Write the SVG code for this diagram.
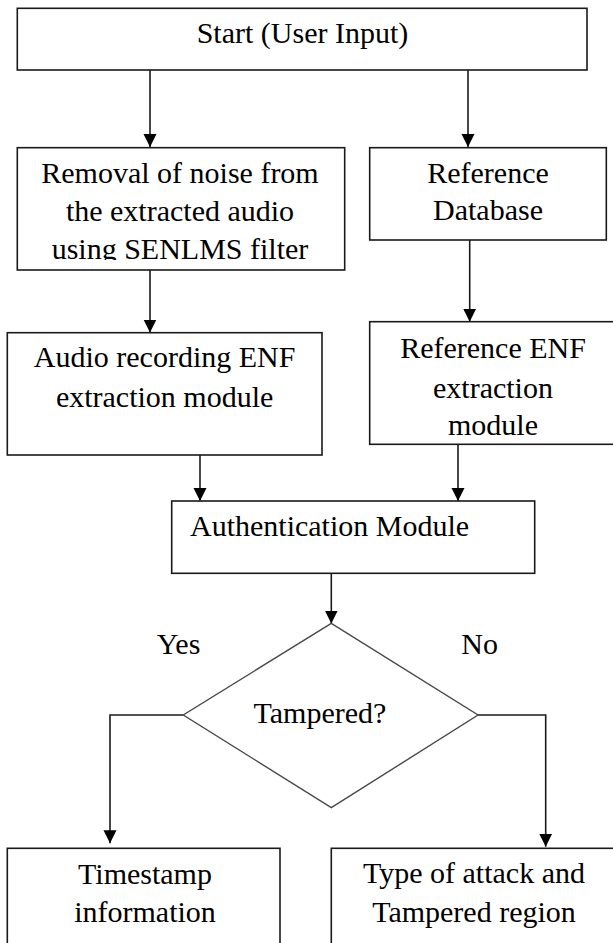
<svg xmlns="http://www.w3.org/2000/svg" width="613" height="943" viewBox="0 0 613 943">
<style>
.box{fill:#fff;stroke:#1a1a1a;stroke-width:1.6}
.dia{fill:#fff;stroke:#4a4a4a;stroke-width:1.4}
.t{font-family:'Liberation Serif','Times New Roman','DejaVu Serif',serif;font-size:30px;fill:#000}
.c{text-anchor:middle}
.ln{fill:none;stroke:#1a1a1a;stroke-width:1.6}
</style>
<defs>
<marker id="ah" markerUnits="userSpaceOnUse" markerWidth="14" markerHeight="14" refX="13" refY="6.5" orient="auto">
<path d="M0,0 L13,6.5 L0,13 Z" fill="#000"/>
</marker>
<clipPath id="clipRemoval"><rect x="17" y="148" width="328" height="112"/></clipPath>
</defs>
<rect width="613" height="943" fill="#fff"/>
<g id="connectors">
<line class="ln" x1="150" y1="70" x2="150" y2="147" marker-end="url(#ah)"/>
<line class="ln" x1="468" y1="70" x2="468" y2="147" marker-end="url(#ah)"/>
<line class="ln" x1="150" y1="270" x2="150" y2="332.5" marker-end="url(#ah)"/>
<line class="ln" x1="469.7" y1="240" x2="469.7" y2="321.7" marker-end="url(#ah)"/>
<line class="ln" x1="200" y1="455" x2="200" y2="501" marker-end="url(#ah)"/>
<line class="ln" x1="458" y1="444.3" x2="458" y2="501" marker-end="url(#ah)"/>
<line class="ln" x1="331.3" y1="573.3" x2="331.3" y2="623.5" marker-end="url(#ah)"/>
<polyline class="ln" points="183.3,715 110,715 110,843.3" marker-end="url(#ah)"/>
<polyline class="ln" points="478,715 545.7,715 545.7,846.7" marker-end="url(#ah)"/>
</g>
<g id="start">
<rect class="box" x="17.3" y="8.3" width="569.7" height="61.7"/>
<text class="t c" font-family="Liberation Serif" x="302.5" y="42.7">Start (User Input)</text>
</g>
<g id="removal">
<rect class="box" x="17.3" y="147.7" width="327.4" height="122.3"/>
<g clip-path="url(#clipRemoval)">
<text class="t c" x="180" y="182.7">Removal of noise from</text>
<text class="t c" x="180" y="221">the extracted audio</text>
<text class="t c" x="180" y="259.3">using SENLMS filter</text>
</g>
</g>
<g id="refdb">
<rect class="box" x="369.7" y="147.7" width="236.6" height="92.3"/>
<text class="t c" x="488" y="182.7">Reference</text>
<text class="t c" x="488" y="220">Database</text>
</g>
<g id="audioenf">
<rect class="box" x="7.3" y="332.7" width="314.7" height="122.3"/>
<text class="t c" x="164.6" y="366.7">Audio recording ENF</text>
<text class="t c" x="164.6" y="406.7">extraction module</text>
</g>
<g id="refenf">
<rect class="box" x="369.7" y="321.7" width="245" height="122.6"/>
<text class="t c" x="493" y="358.3">Reference ENF</text>
<text class="t c" x="493" y="397.7">extraction</text>
<text class="t c" x="493" y="435">module</text>
</g>
<g id="auth">
<rect class="box" x="171.7" y="501" width="363" height="72.3"/>
<text class="t" x="190" y="536">Authentication Module</text>
</g>
<g id="tampered">
<polygon class="dia" points="331.3,623.3 478,715 331.3,807.7 183.3,715"/>
<text class="t c" x="320" y="723">Tampered?</text>
</g>
<g id="labels">
<text class="t" x="156.7" y="654.3">Yes</text>
<text class="t" x="461.3" y="654.3">No</text>
</g>
<g id="timestamp">
<rect class="box" x="7.3" y="848.3" width="272.7" height="110"/>
<text class="t c" x="145" y="884">Timestamp</text>
<text class="t c" x="145" y="921.7">information</text>
</g>
<g id="attack">
<rect class="box" x="331.3" y="848.3" width="285" height="110"/>
<text class="t c" x="474" y="883.3">Type of attack and</text>
<text class="t c" x="474" y="921.7">Tampered region</text>
</g>
</svg>
